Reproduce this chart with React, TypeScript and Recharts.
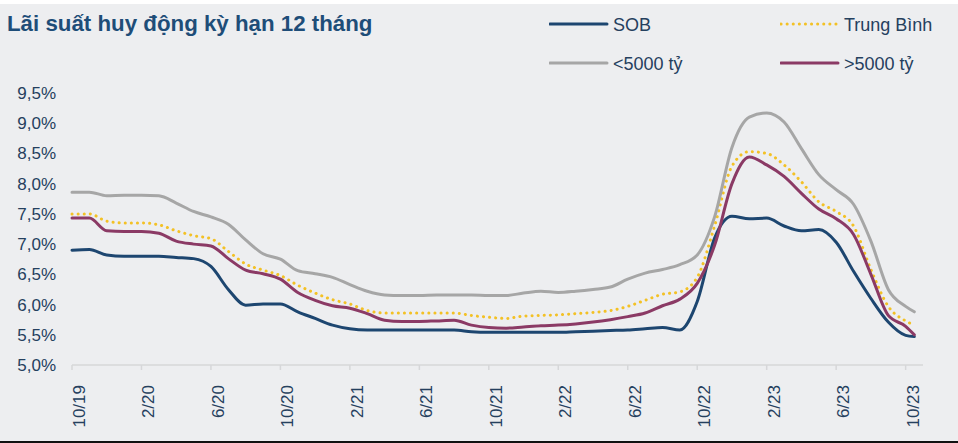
import React from 'react';
import { LineChart, Line, XAxis, YAxis } from 'recharts';

// month offset from 10/2019 (last point is mid-October 2023)
const months = [
  0, 1, 2, 3, 4, 5, 6, 7, 8, 9,
  10, 11, 12, 13, 14, 15, 16, 17, 18, 19,
  20, 21, 22, 23, 24, 25, 26, 27, 28, 29,
  30, 31, 32, 33, 34, 35, 36, 37, 38, 39,
  40, 41, 42, 43, 44, 45, 46, 47, 48, 48.5,
];

const tickPositions = [0, 4, 8, 12, 16, 20, 24, 28, 32, 36, 40, 44, 48];
const tickLabels = ['10/19', '2/20', '6/20', '10/20', '2/21', '6/21', '10/21', '2/22', '6/22', '10/22', '2/23', '6/23', '10/23'];
const yTicks = [5, 5.5, 6, 6.5, 7, 7.5, 8, 8.5, 9, 9.5];

const sob = [
  6.90, 6.91, 6.82, 6.80, 6.80, 6.80, 6.78, 6.76, 6.63, 6.25,
  5.99, 6.01, 6.01, 5.88, 5.77, 5.66, 5.60, 5.58, 5.58, 5.58,
  5.58, 5.58, 5.58, 5.55, 5.54, 5.54, 5.54, 5.54, 5.54, 5.55,
  5.56, 5.57, 5.58, 5.60, 5.62, 5.58, 6.05, 7.10, 7.46, 7.42,
  7.43, 7.30, 7.22, 7.24, 7.03, 6.55, 6.10, 5.71, 5.49, 5.47,
];
const trungBinh = [
  7.50, 7.50, 7.38, 7.35, 7.35, 7.32, 7.22, 7.14, 7.09, 6.88,
  6.67, 6.57, 6.48, 6.32, 6.19, 6.08, 6.01, 5.90, 5.86, 5.86,
  5.86, 5.86, 5.86, 5.82, 5.79, 5.77, 5.81, 5.82, 5.83, 5.85,
  5.87, 5.90, 5.97, 6.07, 6.17, 6.21, 6.45, 7.30, 8.29, 8.53,
  8.50, 8.31, 8.03, 7.70, 7.54, 7.30, 6.58, 5.97, 5.73, 5.66,
];
const duoi5000 = [
  7.86, 7.86, 7.80, 7.81, 7.81, 7.80, 7.68, 7.54, 7.45, 7.33,
  7.07, 6.84, 6.75, 6.56, 6.51, 6.45, 6.33, 6.22, 6.16, 6.15,
  6.15, 6.16, 6.16, 6.16, 6.15, 6.15, 6.19, 6.22, 6.20, 6.22,
  6.25, 6.29, 6.42, 6.52, 6.58, 6.66, 6.82, 7.45, 8.60, 9.10,
  9.17, 9.02, 8.58, 8.15, 7.90, 7.66, 7.05, 6.25, 5.97, 5.88,
];
const tren5000 = [
  7.43, 7.43, 7.22, 7.21, 7.21, 7.18, 7.05, 7.00, 6.97, 6.76,
  6.57, 6.51, 6.42, 6.20, 6.07, 5.98, 5.94, 5.85, 5.74, 5.72,
  5.72, 5.73, 5.74, 5.66, 5.62, 5.61, 5.63, 5.65, 5.66, 5.68,
  5.71, 5.75, 5.80, 5.86, 5.98, 6.09, 6.35, 6.98, 8.00, 8.44,
  8.31, 8.12, 7.84, 7.58, 7.42, 7.16, 6.50, 5.82, 5.64, 5.50,
];

const series = [
  { key: 'sob', name: 'SOB', color: '#1D4670', dash: undefined, values: sob },
  { key: 'tb', name: 'Trung Bình', color: '#F3C125', dash: '0.1 6', values: trungBinh },
  { key: 'lt', name: '<5000 tỷ', color: '#A6A6A6', dash: undefined, values: duoi5000 },
  { key: 'gt', name: '>5000 tỷ', color: '#8B3A65', dash: undefined, values: tren5000 },
];

const data = months.map((m, i) => {
  const row: Record<string, number> = { m };
  series.forEach(s => { row[s.key] = s.values[i]; });
  return row;
});

const FONT = '"Liberation Sans", Arial, sans-serif';
const TEXT = '#25405E';

const XTick = (props: any) => {
  const { x, y, payload } = props;
  const idx = tickPositions.indexOf(payload.value);
  const tx = x + 13;
  const ty = y + 13;
  return (
    <text x={tx} y={ty} transform={`rotate(-90, ${tx}, ${ty})`} textAnchor="end"
      fill={TEXT} fontSize={17} fontFamily={FONT}>
      {tickLabels[idx]}
    </text>
  );
};

const legendPos = [
  { left: 549, top: 25 },
  { left: 780, top: 25 },
  { left: 549, top: 64 },
  { left: 780, top: 64 },
];

export default function App() {
  return (
    <div style={{ position: 'fixed', left: 0, top: 0, width: 958, height: 443, background: '#fff', fontFamily: FONT }}>
      <div style={{ position: 'absolute', left: 0, top: 4, width: 958, height: 437, background: '#EDEEF0', borderBottom: '2px solid #111' }} />
      <div style={{ position: 'absolute', left: 7, top: 11, fontSize: 22.3, fontWeight: 'bold', color: '#1E4D78', whiteSpace: 'nowrap' }}>
        Lãi suất huy động kỳ hạn 12 tháng
      </div>
      {series.map((s, i) => (
        <div key={s.key} style={{ position: 'absolute', left: legendPos[i].left, top: legendPos[i].top - 12, height: 24, display: 'flex', alignItems: 'center' }}>
          <svg width={60} height={24} style={{ display: 'block', marginTop: -2 }}>
            <line x1={1} y1={12} x2={58} y2={12} stroke={s.color} strokeWidth={3}
              strokeDasharray={s.dash} strokeLinecap="round" />
          </svg>
          <span style={{ marginLeft: 4, fontSize: 18, color: TEXT, whiteSpace: 'nowrap' }}>{s.name}</span>
        </div>
      ))}
      <div style={{ position: 'absolute', left: 0, top: 0 }}>
        <LineChart width={958} height={443} data={data} margin={{ top: 93, right: 35, bottom: 0, left: 0 }}>
          <XAxis dataKey="m" type="number" domain={[0, 49]} ticks={tickPositions} interval={0}
            height={78} tick={<XTick />} stroke="#D6D7D9" strokeWidth={1.5}
            tickLine={{ stroke: '#D6D7D9' }} tickSize={5} />
          <YAxis domain={[5, 9.5]} ticks={yTicks} width={72} axisLine={false} tickLine={false}
            tickMargin={10} interval={0}
            tick={{ fill: TEXT, fontSize: 17, fontFamily: FONT }}
            tickFormatter={(v: number) => v.toFixed(1).replace('.', ',') + '%'} />
          {series.map(s => (
            <Line key={s.key} dataKey={s.key} name={s.name} type="monotone" stroke={s.color}
              strokeWidth={3} strokeDasharray={s.dash} strokeLinecap="round"
              dot={false} activeDot={false} isAnimationActive={false} />
          ))}
        </LineChart>
      </div>
    </div>
  );
}
